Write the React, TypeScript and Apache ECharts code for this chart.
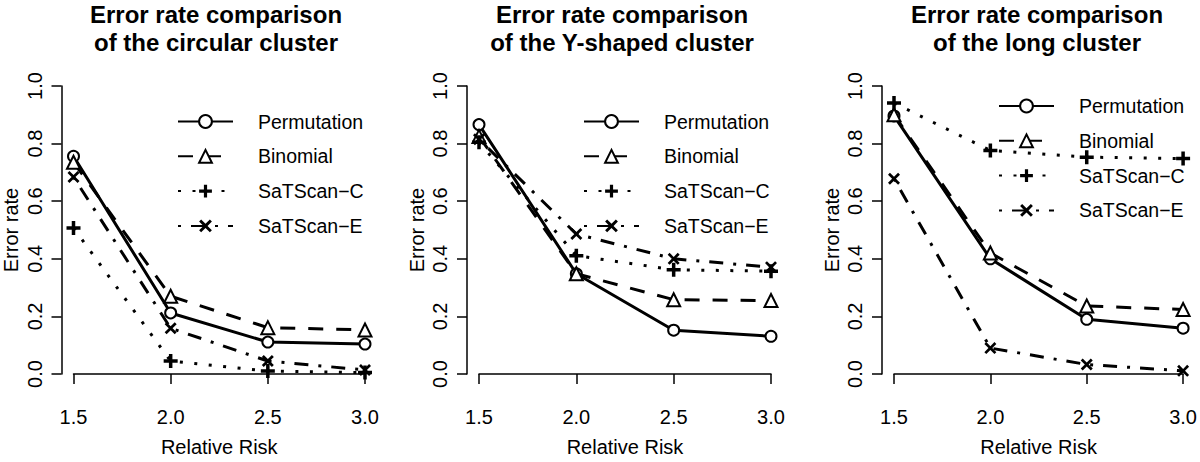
import React, { useEffect, useRef } from "react";
import * as echarts from "echarts";

const relativeRisk = [1.5, 2.0, 2.5, 3.0];
const seriesNames = ["Permutation", "Binomial", "SaTScan\u2212C", "SaTScan\u2212E"];
const panelTitles = [
  "Error rate comparison\nof the circular cluster",
  "Error rate comparison\nof the Y-shaped cluster",
  "Error rate comparison\nof the long cluster",
];
const xTickLabels = ["1.5", "2.0", "2.5", "3.0"];
const xAxisTitle = "Relative Risk";
const yAxisTitle = "Error rate";

// circular cluster
const circularPermutation = [0.756, 0.212, 0.111, 0.104];
const circularBinomial = [0.735, 0.27, 0.161, 0.153];
const circularSaTScanC = [0.507, 0.045, 0.01, 0.005];
const circularSaTScanE = [0.684, 0.159, 0.045, 0.014];
// Y-shaped cluster
const yShapedPermutation = [0.866, 0.348, 0.152, 0.131];
const yShapedBinomial = [0.825, 0.348, 0.258, 0.255];
const yShapedSaTScanC = [0.805, 0.411, 0.362, 0.357];
const yShapedSaTScanE = [0.815, 0.486, 0.4, 0.371];
// long cluster
const longPermutation = [0.896, 0.4, 0.19, 0.159];
const longBinomial = [0.9, 0.42, 0.236, 0.224];
const longSaTScanC = [0.941, 0.776, 0.753, 0.748];
const longSaTScanE = [0.678, 0.09, 0.033, 0.011];

const panelData = [
  [circularPermutation, circularBinomial, circularSaTScanC, circularSaTScanE],
  [yShapedPermutation, yShapedBinomial, yShapedSaTScanC, yShapedSaTScanE],
  [longPermutation, longBinomial, longSaTScanC, longSaTScanE],
];

const PLUS = "path://M3.75,0H6.25V3.75H10V6.25H6.25V10H3.75V6.25H0V3.75H3.75Z";
const CROSS = "path://M0,1.6L1.6,0L5,3.4L8.4,0L10,1.6L6.6,5L10,8.4L8.4,10L5,6.6L1.6,10L0,8.4L3.4,5Z";

const seriesStyles = [
  { symbol: "emptyCircle", symbolSize: 11, lineType: "solid" as any },
  { symbol: "emptyTriangle", symbolSize: 13, lineType: [15, 13] },
  { symbol: PLUS, symbolSize: 14, lineType: [3, 11.5] },
  { symbol: CROSS, symbolSize: 12, lineType: [3, 10, 14, 10] },
];

const gridLefts = [73, 479, 894];
const gridTop = 86;
const gridSize = 292;
const titleCenters = [216, 622, 1037];
const legendLefts = [177, 583, 998];
const legendTops = [111.5, 111.5, 96];

export default function App() {
  const ref = useRef<HTMLDivElement>(null);
  useEffect(() => {
    if (!ref.current) return;
    const chart = echarts.init(ref.current, null, { renderer: "svg" });
    const fmt = (v: number) => v.toFixed(1);
    const black = "#000";
    const option: any = {
      animation: false,
      backgroundColor: "#fff",
      textStyle: { fontFamily: "Liberation Sans, Arial, Helvetica, sans-serif", color: black },
      title: panelTitles.map((t, i) => ({
        text: t,
        left: titleCenters[i],
        top: 0,
        padding: 0,
        textAlign: "center",
        textStyle: { fontSize: 24, fontWeight: "bold", lineHeight: 28, color: black },
      })),
      legend: panelTitles.map((_, i) => ({
        orient: "vertical",
        left: legendLefts[i],
        top: legendTops[i],
        padding: 0,
        itemWidth: 55,
        itemHeight: 16,
        itemGap: 14.8,
        selectedMode: false,
        data: seriesNames,
        textStyle: { fontSize: 19.5, lineHeight: 20, color: black, padding: [0, 0, 0, 20] },
      })),
      grid: gridLefts.map((l) => ({ left: l, top: gridTop, width: gridSize, height: gridSize })),
      xAxis: gridLefts.map((_, i) => ({
        gridIndex: i,
        type: "value",
        min: 1.5,
        max: 3.0,
        interval: 0.5,
        offset: 12,
        axisLine: { lineStyle: { color: black, width: 1.5 } },
        axisTick: { length: 10, lineStyle: { color: black, width: 1.5 } },
        axisLabel: {
          fontSize: 20,
          color: black,
          margin: 21,
          formatter: (v: number) => xTickLabels[relativeRisk.indexOf(v)] ?? fmt(v),
        },
        splitLine: { show: false },
        name: xAxisTitle,
        nameLocation: "middle",
        nameGap: 51,
        nameTextStyle: { fontSize: 20, color: black },
      })),
      yAxis: gridLefts.map((_, i) => ({
        gridIndex: i,
        type: "value",
        min: 0,
        max: 1,
        interval: 0.2,
        offset: 12,
        axisLine: { show: true, lineStyle: { color: black, width: 1.5 } },
        axisTick: { show: true, length: 10, lineStyle: { color: black, width: 1.5 } },
        axisLabel: { rotate: 90, fontSize: 20, color: black, margin: 17, formatter: fmt },
        splitLine: { show: false },
        name: yAxisTitle,
        nameLocation: "middle",
        nameRotate: 90,
        nameGap: 40.5,
        nameTextStyle: { fontSize: 20, color: black },
      })),
      series: panelData.flatMap((panel, pi) =>
        panel.map((vals, si) => ({
          type: "line",
          name: seriesNames[si],
          xAxisIndex: pi,
          yAxisIndex: pi,
          data: relativeRisk.map((x, k) => [x, vals[k]]),
          symbol: seriesStyles[si].symbol,
          symbolSize: seriesStyles[si].symbolSize,
          showAllSymbol: true,
          lineStyle: { color: black, width: 3, type: seriesStyles[si].lineType, cap: "butt" },
          itemStyle: { color: black, borderColor: black, borderWidth: si < 2 ? 2.5 : 0 },
          emphasis: { disabled: true },
          z: 2 + si,
        }))
      ),
    };
    chart.setOption(option);
    return () => chart.dispose();
  }, []);
  return (
    <div
      ref={ref}
      style={{ position: "absolute", left: 0, top: 0, width: 1200, height: 462 }}
    />
  );
}
